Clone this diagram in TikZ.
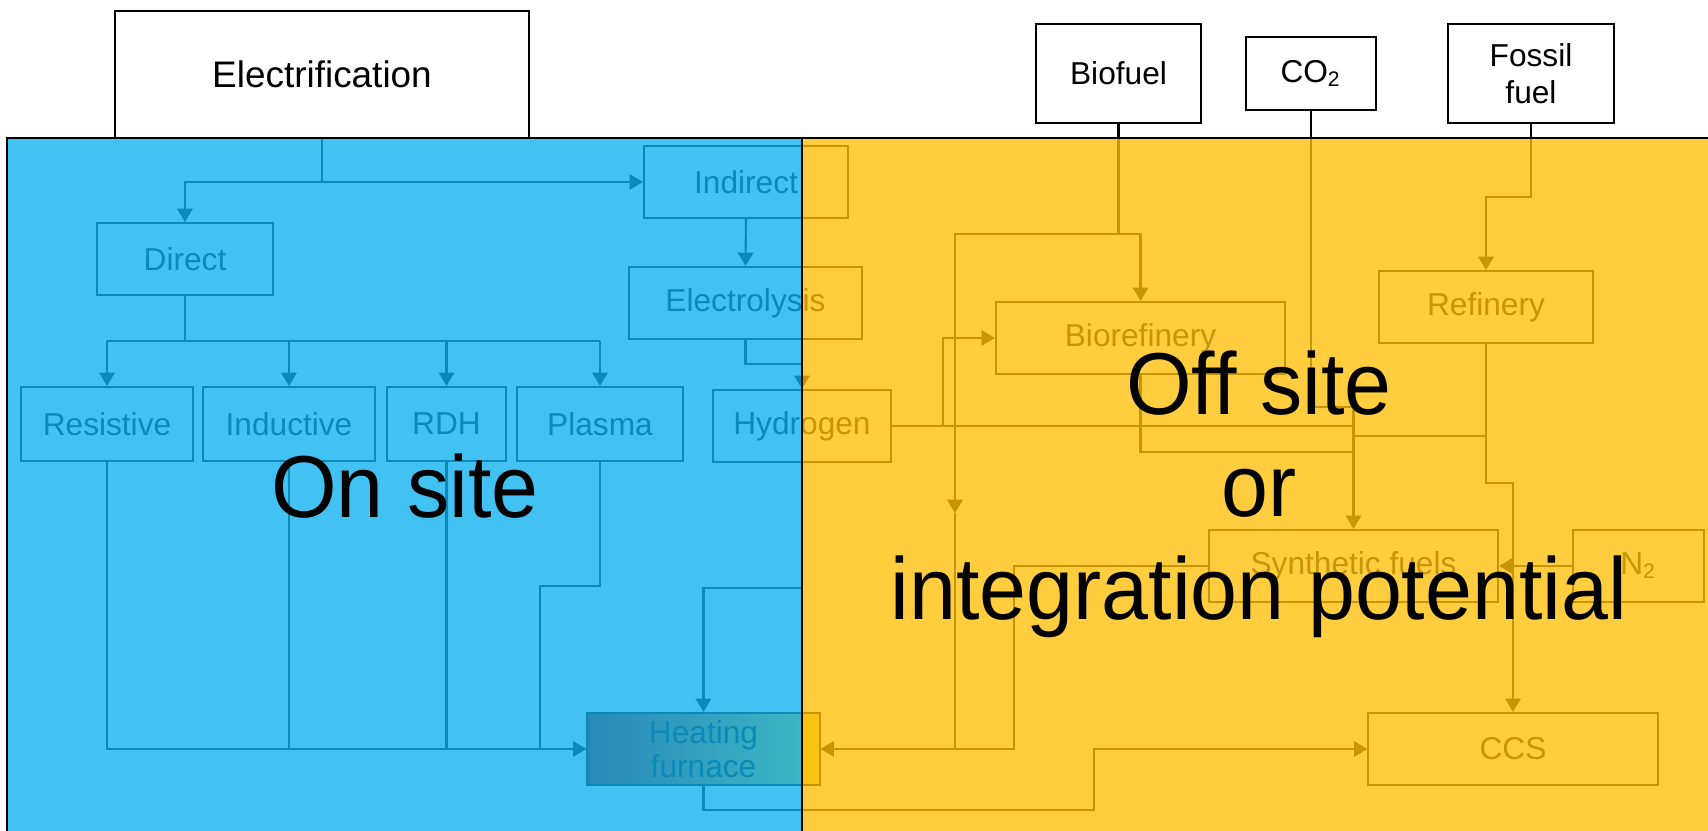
\documentclass[tikz,border=0pt]{standalone}
\usepackage{fontspec}
\setmainfont{Liberation Sans}
\usetikzlibrary{arrows.meta}
\definecolor{onblue}{RGB}{12, 177, 238}
\definecolor{offyellow}{RGB}{255, 191, 8}
\definecolor{fireleft}{RGB}{140, 0, 0}
\definecolor{fireright}{RGB}{240, 215, 50}
\tikzset{%
    box/.style={draw, line width=0.6pt, inner sep=0pt, minimum height=0.72cm,
        align=center, font=\fontsize{9}{10.5}\selectfont},
    topbox/.style={box, fill=white, line width=0.7pt},
    link/.style={line width=0.6pt},
    arr/.style={link, -{Triangle[length=3.8pt, width=4.4pt]}},
    panel/.style={fill opacity=0.78},
    bigtext/.style={inner sep=0pt, font=\fontsize{25}{29}\selectfont}
}

\begin{document}
\begin{tikzpicture}[x=0.01cm, y=-0.01cm]
    \useasboundingbox (0, 0) rectangle (1708, 831);

    % Sources above the panels
    \node[topbox, minimum width=4.14cm, minimum height=1.27cm,
          font=\fontsize{10.5}{12}\selectfont] (elec) at (322, 74.5) {Electrification};
    \node[topbox, minimum width=1.65cm, minimum height=0.99cm] (biofuel) at (1118.5, 73.5) {Biofuel};
    \node[topbox, minimum width=1.30cm, minimum height=0.73cm] (co2) at (1311, 73.5) {CO\textsubscript{2}};
    \node[topbox, minimum width=1.66cm, minimum height=0.99cm] (fossil) at (1531, 73.5) {Fossil\\fuel};

    % Process boxes
    \node[box, minimum width=1.76cm] (direct) at (185, 259) {Direct};
    \node[box, minimum width=2.04cm] (indirect) at (746, 182) {Indirect};
    \node[box, minimum width=2.33cm] (electrolysis) at (745.5, 303) {Electrolysis};
    \node[box, minimum width=1.72cm, minimum height=0.74cm] (resistive) at (107, 424) {Resistive};
    \node[box, minimum width=1.72cm, minimum height=0.74cm] (inductive) at (289, 424) {Inductive};
    \node[box, minimum width=1.19cm, minimum height=0.74cm] (rdh) at (446.5, 424) {RDH};
    \node[box, minimum width=1.66cm, minimum height=0.74cm] (plasma) at (600, 424) {Plasma};
    \node[box, minimum width=1.78cm] (hydrogen) at (802, 426) {Hydrogen};
    \node[box, minimum width=2.89cm] (biorefinery) at (1140.5, 338) {Biorefinery};
    \node[box, minimum width=2.14cm] (refinery) at (1486, 307) {Refinery};
    \node[box, minimum width=2.89cm] (synth) at (1353.5, 566) {Synthetic fuels};
    \node[box, minimum width=1.31cm] (n2) at (1638.5, 566) {N\textsubscript{2}};
    \node[box, minimum width=2.32cm, left color=fireleft, right color=fireright,
          font=\fontsize{9}{9.6}\selectfont] (furnace) at (703.5, 749) {Heating\\furnace};
    \node[box, minimum width=2.89cm] (ccs) at (1513, 749) {CCS};

    % Electrification branch
    \coordinate (split) at (322, 182);
    \draw[link] (elec.south) -- (split);
    \draw[arr] (split) -| (direct.north);
    \draw[arr] (split) -- (indirect.west);
    \draw[arr] (indirect.south) -- (electrolysis.north);

    \coordinate (heatsplit) at (185, 341);
    \draw[link] (direct.south) -- (heatsplit);
    \draw[link] (resistive.north |- heatsplit) -- (plasma.north |- heatsplit);
    \foreach \n in {resistive, inductive, rdh, plasma}{%
        \draw[arr] (\n.north |- heatsplit) -- (\n.north);
    };

    \draw[arr] (resistive.south) |- (furnace.west);
    \foreach \n in {inductive, rdh}{%
        \draw[link] (\n.south) -- (\n.south |- furnace.west);
    };
    \coordinate (plasmabend) at (540, 586);
    \draw[link] (plasma.south) |- (plasmabend) -- (plasmabend |- furnace.west);

    \coordinate (h2bend) at (802, 364);
    \draw[arr] (electrolysis.south) |- (h2bend) -- (hydrogen.north);
    \coordinate (h2down) at (802, 588);
    \draw[arr] (hydrogen.south) -- (h2down) -| (furnace.north);

    % Off site feeds
    \coordinate (biosplit) at (1118.5, 234);
    \coordinate (biomid) at (955, 513);
    \draw[link] (biofuel.south) -- (biosplit);
    \draw[arr] (biosplit) -| (biorefinery.north);
    \draw[arr] (biosplit) -| (biomid);
    \draw[arr] (biomid) |- (furnace.east);

    \coordinate (synthfeed) at (1353.5, 407);
    \draw[arr] (co2.south) |- (synthfeed) -- (synth.north);
    \draw[link] (hydrogen.east) -- (hydrogen.east -| synthfeed);
    \coordinate (h2branch) at (943, 426);
    \draw[arr] (h2branch) |- (biorefinery.west);
    \coordinate (biojoin) at (1353.5, 452);
    \draw[link] (biorefinery.south) |- (biojoin);

    \coordinate (fossilbend) at (1531, 197);
    \draw[arr] (fossil.south) -- (fossilbend) -| (refinery.north);
    \coordinate (refsplit) at (1486, 436);
    \draw[link] (refinery.south) -- (refsplit) -- (refsplit -| synthfeed);
    \coordinate (ccsbend) at (1486, 483);
    \draw[arr] (refsplit) -- (ccsbend) -| (ccs.north);

    \draw[arr] (n2.west) -- (synth.east);
    \coordinate (synthbend) at (1014, 566);
    \draw[link] (synth.west) -- (synthbend) |- (biomid |- furnace.east);
    \coordinate (ccsfeed) at (1094, 810);
    \draw[arr] (furnace.south) |- (ccsfeed) |- (ccs.west);

    % Panels
    \fill[onblue, panel] (7, 138) rectangle (802, 831);
    \fill[offyellow, panel] (802, 138) rectangle (1708, 831);
    \draw[line width=0.8pt] (7, 831) -- (7, 138) -- (1708, 138);
    \draw[line width=0.8pt] (802, 138) -- (802, 831);

    % Labels
    \node[bigtext, anchor=base] (onsite) at (405, 518) {\scalebox{0.96}[1]{On site}};
    \node[bigtext, anchor=base] (offsite) at (1259, 415) {\scalebox{0.96}[1]{Off site}};
    \node[bigtext, anchor=base] (orword) at (1259, 517) {\scalebox{0.96}[1]{or}};
    \node[bigtext, anchor=base] (potential) at (1259, 620) {\scalebox{0.96}[1]{integration potential}};

\end{tikzpicture}
\end{document}
